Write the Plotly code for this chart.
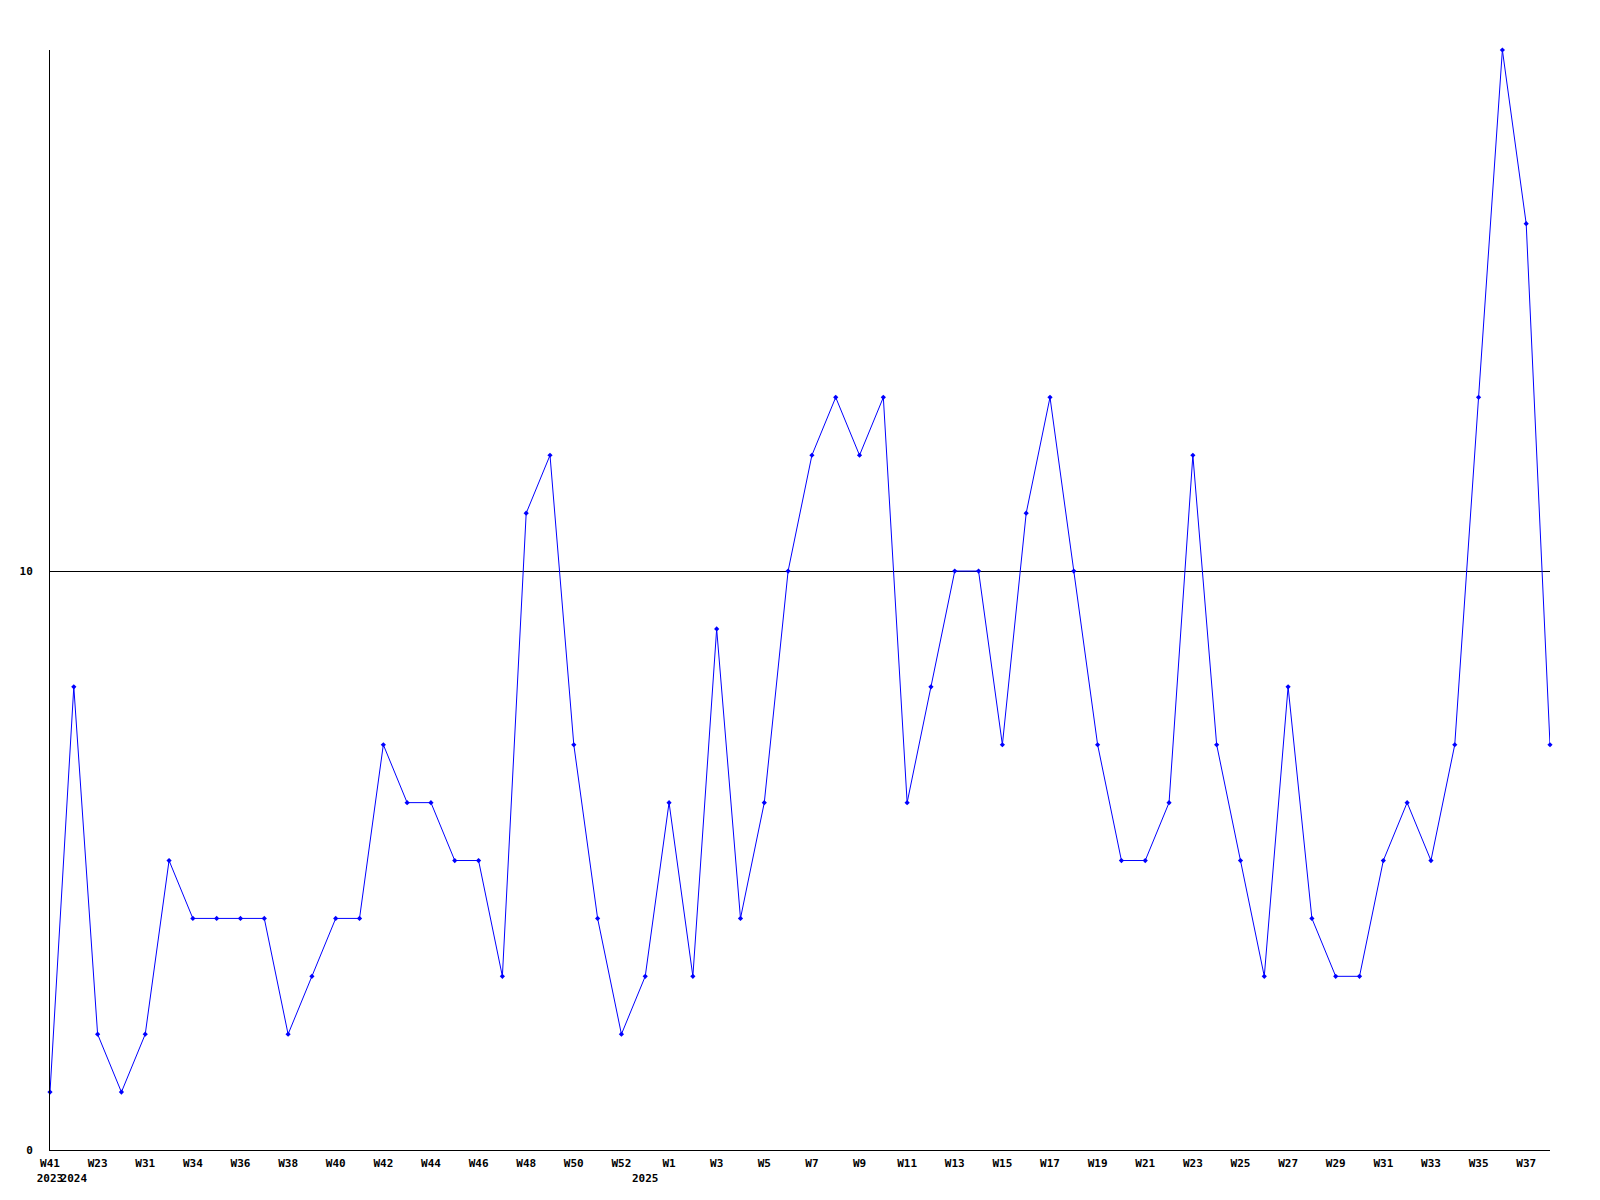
import plotly.graph_objects as go

years = ["2023"] + ["2024"] * 24 + ["2025"] * 39
weeks = (["W41", "W22", "W23", "W27", "W31", "W33"]
         + [f"W{w}" for w in range(34, 53)]
         + ["W0"]
         + [f"W{w}" for w in range(1, 39)])
values = [1, 8, 2, 1, 2, 5, 4, 4, 4, 4, 2, 3, 4, 4, 7, 6, 6, 5, 5, 3,
          11, 12, 7, 4, 2, 3, 6, 3, 9, 4, 6, 10, 12, 13, 12, 13, 6, 8, 10, 10,
          7, 11, 13, 10, 7, 5, 5, 6, 12, 7, 5, 3, 8, 4, 3, 3, 5, 6, 5, 7,
          13, 19, 16, 7]
y_ticks = [0, 10]

cats = [f"{y}-{w}" for y, w in zip(years, weeks)]

tickvals, ticktext = [], []
for i, c in enumerate(cats):
    new_year = i == 0 or years[i] != years[i - 1]
    if i % 2 == 0:
        tickvals.append(c)
        ticktext.append(weeks[i] + ("<br>" + years[i] if new_year else "<br> "))
    elif new_year:
        tickvals.append(c)
        ticktext.append(" <br>" + years[i])

font = dict(family="DejaVu Sans Mono", size=11, color="black", weight="bold")

fig = go.Figure(go.Scatter(
    x=cats, y=values, mode="lines+markers",
    line=dict(color="#0000ff", width=1),
    marker=dict(symbol="diamond", size=4, color="#0000ff"),
    cliponaxis=False,
))
fig.update_layout(
    width=1600, height=1200,
    margin=dict(l=42, r=58, t=42, b=58),
    plot_bgcolor="white", paper_bgcolor="white",
    showlegend=False, font=font,
)
fig.update_xaxes(
    type="category", range=[0, len(cats) - 1],
    tickmode="array", tickvals=tickvals, ticktext=ticktext,
    tickangle=0, ticks="", showgrid=False, zeroline=False,
    showline=True, linecolor="black", linewidth=1,
    tickfont=font, ticklabelstandoff=3,
)
fig.update_yaxes(
    range=[0, max(values)], tickmode="array", tickvals=y_ticks,
    ticks="", showgrid=True, gridcolor="black", gridwidth=1,
    zeroline=False, showline=True, linecolor="black", linewidth=1,
    tickfont=font, ticklabelstandoff=14,
)
fig.write_html("out.html")
